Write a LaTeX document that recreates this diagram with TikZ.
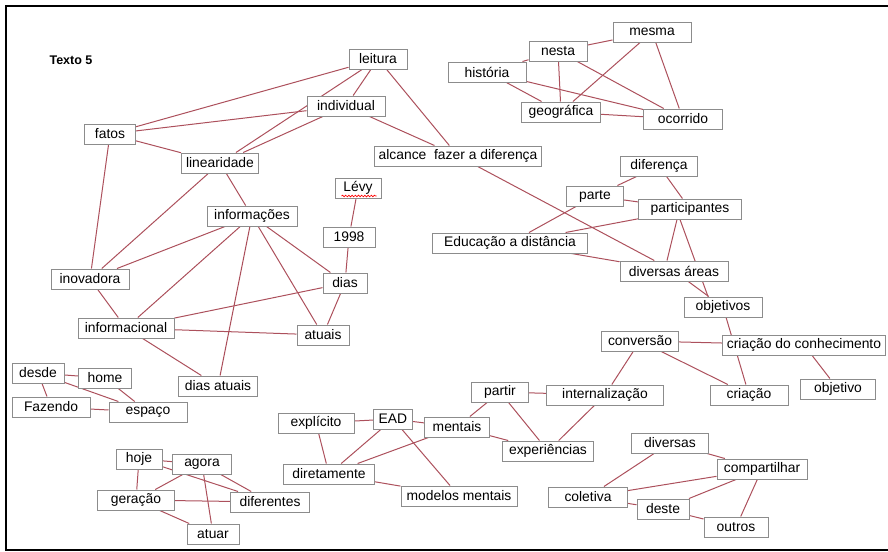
\documentclass[tikz,border=0pt]{standalone}
\usepackage{fontspec}
\setmainfont{Liberation Sans}
\usetikzlibrary{calc,backgrounds,decorations.pathmorphing}
\definecolor{edgecol}{RGB}{172,80,92}
\definecolor{boxcol}{RGB}{140,140,140}
\begin{document}
\begin{tikzpicture}[x=0.75pt,y=-0.75pt,
  wbox/.style={draw=boxcol, line width=0.75pt, fill=white, inner sep=0pt,
               minimum height=15pt, font=\fontsize{10.4}{12}\selectfont},
  wd/.style={minimum width=#1*0.75pt},
  link/.style={draw=edgecol, line width=0.75pt}]
\useasboundingbox (0,0) rectangle (888,551);

% frame (no right side)
\draw[line width=1.5pt] (888,6) -- (6,6) -- (6,549.5) -- (888,549.5);

\node[font=\fontsize{9.4}{11}\selectfont\bfseries] (title) at (71,60) {Texto 5};

% top-left cluster
\node[wbox,wd=51]  (fatos)       at (110,134) {fatos};
\node[wbox,wd=77]  (linearidade) at (220,163) {linearidade};
\node[wbox,wd=58]  (leitura)     at (378,59)  {leitura};
\node[wbox,wd=78]  (individual)  at (346,106) {individual};
\node[wbox,wd=167] (alcance)     at (458,156) {alcance\ \ fazer a diferença};
\node[wbox,wd=46]  (levy)        at (358,188) {Lévy};
\node[wbox,wd=90]  (informacoes) at (252,216) {informações};
\node[wbox,wd=78]  (inovadora)   at (90,279)  {inovadora};
\node[wbox,wd=96]  (informacional) at (126,328) {informacional};
\node[wbox,wd=52]  (ano)         at (349,237) {1998};
\node[wbox,wd=44]  (dias)        at (345,283) {dias};
\node[wbox,wd=52]  (atuais)      at (323,335) {atuais};
\node[wbox,wd=79]  (diasatuais)  at (218,386) {dias atuais};

% top-right cluster
\node[wbox,wd=78]  (historia)    at (487,72)  {história};
\node[wbox,wd=58]  (nesta)       at (558,51)  {nesta};
\node[wbox,wd=79]  (geografica)  at (561,112) {geográfica};
\node[wbox,wd=78]  (mesma)       at (652,32)  {mesma};
\node[wbox,wd=79]  (ocorrido)    at (683,119) {ocorrido};

% middle-right cluster
\node[wbox,wd=77]  (diferenca)   at (659,166) {diferença};
\node[wbox,wd=57]  (parte)       at (595,196) {parte};
\node[wbox,wd=103] (participantes) at (690,209) {participantes};
\node[wbox,wd=155] (educacao)    at (510,243) {Educação a distância};
\node[wbox,wd=108] (divareas)    at (674,271) {diversas áreas};
\node[wbox,wd=78]  (objetivos)   at (723,307) {objetivos};
\node[wbox,wd=77]  (conversao)   at (640,341) {conversão};
\node[wbox,wd=163] (ccon)        at (804,345) {criação do conhecimento};
\node[wbox,wd=78]  (criacao)     at (749,395) {criação};
\node[wbox,wd=75]  (objetivo)    at (838,389) {objetivo};

% bottom-middle cluster
\node[wbox,wd=117] (internalizacao) at (605,395) {internalização};
\node[wbox,wd=57]  (partir)      at (500,392) {partir};
\node[wbox,wd=39]  (ead)         at (393,419) {EAD};
\node[wbox,wd=76]  (explicito)   at (316,423) {explícito};
\node[wbox,wd=65]  (mentais)     at (457,427) {mentais};
\node[wbox,wd=91]  (experiencias) at (548,451) {experiências};
\node[wbox,wd=91]  (diretamente) at (329,474) {diretamente};
\node[wbox,wd=116] (modelos)     at (459,496) {modelos mentais};

% bottom-right cluster
\node[wbox,wd=79]  (coletiva)    at (588,497) {coletiva};
\node[wbox,wd=77]  (diversas)    at (670,443) {diversas};
\node[wbox,wd=90]  (compartilhar) at (762,469) {compartilhar};
\node[wbox,wd=52]  (deste)       at (663,509) {deste};
\node[wbox,wd=64]  (outros)      at (736,527) {outros};

% bottom-left clusters
\node[wbox,wd=52]  (desde)       at (38,373)  {desde};
\node[wbox,wd=53]  (home)        at (105,378) {home};
\node[wbox,wd=78]  (fazendo)     at (51,407)  {Fazendo};
\node[wbox,wd=78]  (espaco)      at (148,412) {espaço};
\node[wbox,wd=46]  (hoje)        at (139,459) {hoje};
\node[wbox,wd=59]  (agora)       at (202,464) {agora};
\node[wbox,wd=77]  (geracao)     at (136,500) {geração};
\node[wbox,wd=79]  (diferentes)  at (270,502) {diferentes};
\node[wbox,wd=52]  (atuar)       at (213,534) {atuar};

% spell-check underline under Lévy
\draw[red, line width=0.5pt, decorate, decoration={snake, amplitude=0.6pt, segment length=2.4pt}]
  ($(levy.south west)+(7,-2.5)$) -- ($(levy.south east)+(-5,-2.5)$);

\begin{scope}[on background layer]
\draw[link] (fatos) -- (leitura);
\draw[link] (fatos) -- (individual);
\draw[link] (fatos) -- (linearidade);
\draw[link] (fatos) -- (inovadora);
\draw[link] (linearidade) -- (leitura);
\draw[link] (linearidade) -- (individual);
\draw[link] (leitura) -- (individual);
\draw[link] (individual) -- (alcance);
\draw[link] (leitura) -- (alcance);
\draw[link] (alcance) -- (divareas);
\draw[link] (linearidade) -- (informacoes);
\draw[link] (linearidade) -- (inovadora);

\draw[link] (historia) -- (nesta);
\draw[link] (nesta) -- (mesma);
\draw[link] (nesta) -- (geografica);
\draw[link] (nesta) -- (ocorrido);
\draw[link] (mesma) -- (geografica);
\draw[link] (mesma) -- (ocorrido);
\draw[link] (historia) -- (geografica);
\draw[link] (historia) -- (ocorrido);
\draw[link] (geografica) -- (ocorrido);

\draw[link] (diferenca) -- (parte);
\draw[link] (diferenca) -- (participantes);
\draw[link] (parte) -- (participantes);
\draw[link] (parte) -- (educacao);
\draw[link] (educacao) -- (participantes);
\draw[link] (educacao) -- (divareas);
\draw[link] ($(participantes.south)+(-13,0)$) -- ($(divareas.north)+(-7,0)$);
\draw[link] ($(participantes.south)+(-10,0)$) -- ($(objetivos.north)+(-15,0)$);
\draw[link] (divareas) -- (objetivos);
\draw[link] (objetivos) -- (criacao);
\draw[link] (conversao) -- (ccon);
\draw[link] (conversao) -- (criacao);
\draw[link] (conversao) -- (internalizacao);
\draw[link] (ccon) -- (objetivo);

\draw[link] (partir) -- (internalizacao);
\draw[link] (internalizacao) -- (experiencias);
\draw[link] (partir) -- (experiencias);
\draw[link] (partir) -- (mentais);
\draw[link] (ead) -- (mentais);
\draw[link] (explicito) -- (ead);
\draw[link] (explicito) -- (diretamente);
\draw[link] (ead) -- (diretamente);
\draw[link] (ead) -- (modelos);
\draw[link] (mentais) -- (diretamente);
\draw[link] (mentais) -- (experiencias);
\draw[link] (diretamente) -- (modelos);

\draw[link] (diversas) -- (coletiva);
\draw[link] (diversas) -- (compartilhar);
\draw[link] (coletiva) -- (compartilhar);
\draw[link] (deste) -- (compartilhar);
\draw[link] (coletiva) -- (deste);
\draw[link] (deste) -- (outros);
\draw[link] (compartilhar) -- (outros);

\draw[link] (informacoes) -- (inovadora);
\draw[link] (informacoes) -- (informacional);
\draw[link] (informacoes) -- (diasatuais);
\draw[link] (informacoes) -- (dias);
\draw[link] (informacoes) -- (atuais);
\draw[link] (inovadora) -- (informacional);
\draw[link] (informacional) -- (dias);
\draw[link] (informacional) -- (atuais);
\draw[link] (informacional) -- (diasatuais);
\draw[link] (dias) -- (ano);
\draw[link] (ano) -- (levy);
\draw[link] (dias) -- (atuais);

\draw[link] (desde) -- (home);
\draw[link] (desde) -- (espaco);
\draw[link] (desde) -- (fazendo);
\draw[link] (home) -- (espaco);
\draw[link] (fazendo) -- (espaco);

\draw[link] (hoje) -- (agora);
\draw[link] (hoje) -- (geracao);
\draw[link] (hoje) -- (diferentes);
\draw[link] (agora) -- (geracao);
\draw[link] (agora) -- (diferentes);
\draw[link] (agora) -- (atuar);
\draw[link] (geracao) -- (diferentes);
\draw[link] (geracao) -- (atuar);
\end{scope}
\end{tikzpicture}
\end{document}
